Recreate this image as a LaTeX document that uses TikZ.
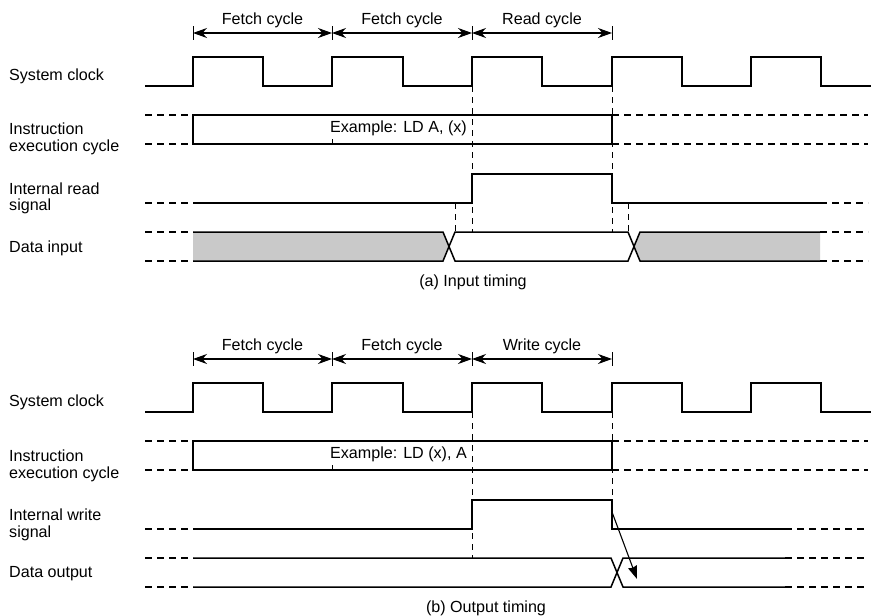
\documentclass[tikz,border=0pt]{standalone}
\usepackage{fontspec}
\setmainfont{Liberation Sans}
\usetikzlibrary{arrows.meta}

\begin{document}
\begin{tikzpicture}[
    x=1pt, y=-1pt,
    font=\fontsize{16.1}{16.5}\selectfont,
    wave/.style={line width=1.5pt, line join=miter},
    stub/.style={line width=1.5pt, dash pattern=on 7pt off 5pt},
    guide/.style={line width=1pt, dash pattern=on 6pt off 5pt},
    tick/.style={line width=1pt},
    dimarr/.style={{Stealth[length=14pt, width=10pt]}-{Stealth[length=14pt, width=10pt]}, line width=1.1pt},
    trig/.style={-{Stealth[length=13pt, width=9pt, inset=1pt]}, line width=1.1pt},
    siglabel/.style={anchor=west, align=left, inner sep=0pt},
    cyclabel/.style={inner sep=0pt},
    busfill/.style={fill=black!21}
]
\useasboundingbox (0,0) rectangle (871,616);

%%% (a) Input timing
% Cycle marks
\coordinate (ia0) at (193,33);
\coordinate (ia1) at (332,33);
\coordinate (ia2) at (472,33);
\coordinate (ia3) at (612,33);
\draw[tick] ([yshift=7pt]ia0) -- ([yshift=-7pt]ia0);
\draw[tick] ([yshift=7pt]ia1) -- ([yshift=-7pt]ia1);
\draw[tick] ([yshift=7pt]ia2) -- ([yshift=-7pt]ia2);
\draw[tick] ([yshift=7pt]ia3) -- ([yshift=-7pt]ia3);
\draw[dimarr] (ia0) -- (ia1);
\draw[dimarr] (ia1) -- (ia2);
\draw[dimarr] (ia2) -- (ia3);
\node[cyclabel] (ifetch1) at (262.5,20) {Fetch cycle};
\node[cyclabel] (ifetch2) at (402,20) {Fetch cycle};
\node[cyclabel] (iread) at (542,20) {Read cycle};

% Signal names
\node[siglabel] (iclk) at (9,76) {System clock};
\node[siglabel] (iinst) at (9,139) {Instruction\\execution cycle};
\node[siglabel] (ird) at (9,198.5) {Internal read\\signal};
\node[siglabel] (idata) at (9,248) {Data input};

% System clock
\draw[wave] (145,86) -- (193,86) -- (193,57) -- (263,57) -- (263,86) -- (332,86) -- (332,57)
    -- (403,57) -- (403,86) -- (472,86) -- (472,57) -- (542,57) -- (542,86) -- (612,86)
    -- (612,57) -- (682,57) -- (682,86) -- (751,86) -- (751,57) -- (821,57) -- (821,86) -- (871,86);

% Guides
\draw[guide] (472,86) -- (472,232);
\draw[guide] (612,86) -- (612,232);
\draw[guide] (455,203) -- (455,232);
\draw[guide] (628,203) -- (628,232);

% Instruction execution cycle
\draw[stub] (145,115) -- (193,115);
\draw[stub] (145,144) -- (193,144);
\draw[wave] (193,115) rectangle (612,144);
\draw[tick] (332,144) -- (332,139);
\node[anchor=west, inner sep=0pt] (iex) at (330,128) {Example: LD A, (x)};
\draw[stub] (612,115) -- (868,115);
\draw[stub] (612,144) -- (868,144);

% Internal read signal
\draw[stub] (145,203) -- (193,203);
\draw[wave] (193,203) -- (472,203) -- (472,174) -- (612,174) -- (612,203) -- (820,203);
\draw[stub] (820,203) -- (868,203);

% Data input
\fill[busfill] (193,232) -- (443,232) -- (449,246.5) -- (443,261) -- (193,261) -- cycle;
\fill[busfill] (640,232) -- (820,232) -- (820,261) -- (640,261) -- (634,246.5) -- cycle;
\draw[stub] (145,232) -- (193,232);
\draw[stub] (145,261) -- (193,261);
\draw[wave] (193,232) -- (443,232) -- (455,261) -- (628,261) -- (640,232) -- (820,232);
\draw[wave] (193,261) -- (443,261) -- (455,232) -- (628,232) -- (640,261) -- (820,261);
\draw[stub] (820,232) -- (868,232);
\draw[stub] (820,261) -- (868,261);

\node (icap) at (473,282) {(a) Input timing};

%%% (b) Output timing
\begin{scope}[shift={(0,326)}]
% Cycle marks
\coordinate (oa0) at (193,33);
\coordinate (oa1) at (332,33);
\coordinate (oa2) at (472,33);
\coordinate (oa3) at (612,33);
\draw[tick] ([yshift=7pt]oa0) -- ([yshift=-7pt]oa0);
\draw[tick] ([yshift=7pt]oa1) -- ([yshift=-7pt]oa1);
\draw[tick] ([yshift=7pt]oa2) -- ([yshift=-7pt]oa2);
\draw[tick] ([yshift=7pt]oa3) -- ([yshift=-7pt]oa3);
\draw[dimarr] (oa0) -- (oa1);
\draw[dimarr] (oa1) -- (oa2);
\draw[dimarr] (oa2) -- (oa3);
\node[cyclabel] (ofetch1) at (262.5,20) {Fetch cycle};
\node[cyclabel] (ofetch2) at (402,20) {Fetch cycle};
\node[cyclabel] (owrite) at (542,20) {Write cycle};

% Signal names
\node[siglabel] (oclk) at (9,76) {System clock};
\node[siglabel] (oinst) at (9,140) {Instruction\\execution cycle};
\node[siglabel] (owr) at (9,199) {Internal write\\signal};
\node[siglabel] (odata) at (9,248) {Data output};

% System clock
\draw[wave] (145,86) -- (193,86) -- (193,57) -- (263,57) -- (263,86) -- (332,86) -- (332,57)
    -- (403,57) -- (403,86) -- (472,86) -- (472,57) -- (542,57) -- (542,86) -- (612,86)
    -- (612,57) -- (682,57) -- (682,86) -- (751,86) -- (751,57) -- (821,57) -- (821,86) -- (871,86);

% Guides
\draw[guide] (472,86) -- (472,232);
\draw[guide] (612,86) -- (612,174);

% Instruction execution cycle
\draw[stub] (145,115) -- (193,115);
\draw[stub] (145,144) -- (193,144);
\draw[wave] (193,115) rectangle (612,144);
\draw[tick] (332,144) -- (332,139);
\node[anchor=west, inner sep=0pt] (oex) at (330,128) {Example: LD (x), A};
\draw[stub] (612,115) -- (868,115);
\draw[stub] (612,144) -- (868,144);

% Internal write signal
\draw[stub] (145,203) -- (193,203);
\draw[wave] (193,203) -- (472,203) -- (472,174) -- (612,174) -- (612,203) -- (785,203);
\draw[stub] (785,203) -- (868,203);

% Data output
\draw[stub] (145,232) -- (193,232);
\draw[stub] (145,261) -- (193,261);
\draw[wave] (193,232) -- (611,232) -- (623,261) -- (785,261);
\draw[wave] (193,261) -- (611,261) -- (623,232) -- (785,232);
\draw[stub] (785,232) -- (868,232);
\draw[stub] (785,261) -- (868,261);

% Write edge to output change
\coordinate (wfall) at (612,186);
\coordinate (dchg) at (637,253);
\draw[trig] (wfall) -- (dchg);

\node (ocap) at (486,282) {(b) Output timing};
\end{scope}

\end{tikzpicture}
\end{document}
